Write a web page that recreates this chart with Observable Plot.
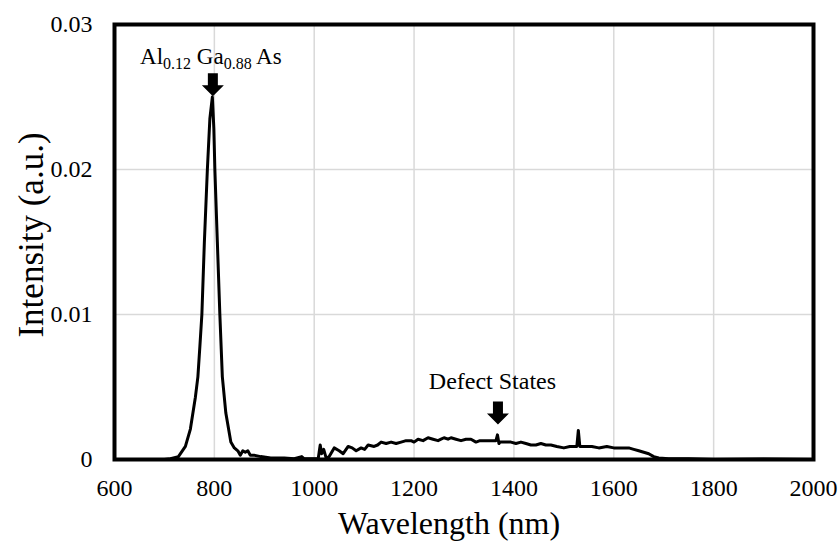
<!DOCTYPE html>
<html>
<head>
<meta charset="utf-8">
<script src="https://cdn.jsdelivr.net/npm/d3@7"></script>
<script src="https://cdn.jsdelivr.net/npm/@observablehq/plot@0.6"></script>
<style>
  html, body { margin: 0; padding: 0; background: #ffffff; }
  #chart svg { display: block; }
  #chart svg text { font-family: 'Liberation Serif', 'Times New Roman', Times, serif !important; fill: #000; }
</style>
</head>
<body>
<div id="chart"></div>
<script>
// Photoluminescence spectrum
const wavelength = [
  700, 712, 728, 742, 752, 762, 767, 771, 775, 780, 786, 791, 796, 799, 801, 806, 811, 816, 823, 833,
  840, 847, 852, 857, 862, 867, 872, 879, 893, 913, 940, 960, 975, 980, 1008, 1012, 1015, 1019, 1024, 1030,
  1040, 1050, 1058, 1068, 1076, 1084, 1094, 1101, 1108, 1120, 1127, 1134, 1144, 1154, 1164, 1174, 1184, 1194, 1200, 1208,
  1218, 1228, 1238, 1248, 1254, 1260, 1268, 1274, 1284, 1294, 1304, 1314, 1324, 1332, 1340, 1350, 1358, 1364, 1367, 1370,
  1372, 1380, 1394, 1404, 1414, 1424, 1434, 1444, 1454, 1464, 1474, 1486, 1500, 1512, 1526, 1529, 1532, 1540, 1556, 1570,
  1586, 1600, 1616, 1630, 1640, 1650, 1660, 1670, 1680, 1690, 1710, 1750, 1800, 1900, 2000
];
const intensity = [
  0, 0.00005, 0.0002, 0.0009, 0.0021, 0.0043, 0.0057, 0.0078, 0.0100, 0.0150, 0.0200, 0.0235, 0.0250, 0.0228, 0.0200, 0.0150, 0.0100, 0.0057, 0.0032, 0.0012,
  0.0008, 0.0006, 0.0003, 0.0006, 0.0005, 0.0006, 0.0003, 0.0003, 0.0002, 0.0001, 0.0001, 0.00005, 0.0002, 0.00005, 0.00005, 0.0010, 0.0004, 0.0007, 0.0001, 0.0002,
  0.0008, 0.0006, 0.0004, 0.0009, 0.0008, 0.0006, 0.0008, 0.0007, 0.0010, 0.0009, 0.0010, 0.0012, 0.0011, 0.0012, 0.0011, 0.0012, 0.0013, 0.0013, 0.0012, 0.0014,
  0.0013, 0.0015, 0.0014, 0.0013, 0.0014, 0.0015, 0.0014, 0.0015, 0.0014, 0.0013, 0.0014, 0.0014, 0.0012, 0.0013, 0.0013, 0.0013, 0.0013, 0.0013, 0.0017, 0.0011,
  0.0012, 0.0012, 0.0012, 0.0011, 0.0012, 0.0011, 0.0010, 0.0010, 0.0011, 0.0010, 0.0010, 0.0009, 0.0008, 0.0009, 0.0009, 0.0020, 0.0009, 0.0009, 0.0009, 0.0008,
  0.0009, 0.0008, 0.0008, 0.0008, 0.0007, 0.0006, 0.0005, 0.0004, 0.0002, 0.0001, 0.00005, 0.00005, 0, 0.00003, 0
];

const xTicks = [600, 800, 1000, 1200, 1400, 1600, 1800, 2000];
const xTickLabels = ["600", "800", "1000", "1200", "1400", "1600", "1800", "2000"];
const yTicks = [0, 0.01, 0.02, 0.03];
const yTickLabels = ["0", "0.01", "0.02", "0.03"];
const xGrid = [800, 1000, 1200, 1400, 1600, 1800];
const yGrid = [0.01, 0.02];

const xLabel = "Wavelength (nm)";
const yLabel = "Intensity (a.u.)";

// Annotations (anchored in data units)
const peakLabelParts = ["Al", "0.12", " Ga", "0.88", " As"];
const peakLabelSub = [false, true, false, true, false];
const peakLabel = peakLabelParts.join("");
const peakLabelX = 793;
const peakLabelY = 0.02776;
const peakArrowX = 797;
const peakArrowY = 0.02585;

const defectLabel = "Defect States";
const defectLabelX = 1357;
const defectLabelY = 0.0054;
const defectArrowX = 1368;
const defectArrowY = 0.0032;

const spectrum = wavelength.map((w, i) => ({w, v: intensity[i]}));

// block arrow symbol (pointing down), centred on its anchor
const blockArrow = {
  draw(ctx) {
    const sw = 10, hw = 22, top = -11.5, mid = 0.5, tip = 11.5;
    ctx.moveTo(-sw / 2, top);
    ctx.lineTo(sw / 2, top);
    ctx.lineTo(sw / 2, mid);
    ctx.lineTo(hw / 2, mid);
    ctx.lineTo(0, tip);
    ctx.lineTo(-hw / 2, mid);
    ctx.lineTo(-sw / 2, mid);
    ctx.closePath();
  }
};

const serif = "Liberation Serif";

const chart = Plot.plot({
  width: 840,
  height: 548,
  marginLeft: 114,
  marginRight: 27,
  marginTop: 24,
  marginBottom: 89,
  style: {fontFamily: serif, fontSize: "24px", color: "black", background: "white"},
  x: {domain: [600, 2000]},
  y: {domain: [0, 0.03]},
  marks: [
    Plot.gridX(xGrid, {stroke: "#d9d9d9", strokeOpacity: 1, strokeWidth: 1.5}),
    Plot.gridY(yGrid, {stroke: "#d9d9d9", strokeOpacity: 1, strokeWidth: 1.5}),
    Plot.line(spectrum, {x: "w", y: "v", stroke: "black", strokeWidth: 3, strokeLinejoin: "round"}),
    Plot.frame({stroke: "black", strokeWidth: 4}),
    Plot.axisX({ticks: xTicks, tickFormat: d => xTickLabels[xTicks.indexOf(d)], tickSize: 0, tickPadding: 19, label: null, fontSize: 24, fontFamily: serif}),
    Plot.axisY({ticks: yTicks, tickFormat: d => yTickLabels[yTicks.indexOf(d)], tickSize: 0, tickPadding: 22, label: null, fontSize: 24, fontFamily: serif}),
    Plot.text([xLabel], {frameAnchor: "bottom", text: d => d, dx: -15, dy: 64, fontSize: 32, fontFamily: serif, textAnchor: "middle", lineAnchor: "middle"}),
    Plot.text([yLabel], {frameAnchor: "left", text: d => d, rotate: -90, dx: -83, dy: -7, fontSize: 35, fontFamily: serif, textAnchor: "middle", lineAnchor: "middle"}),
    Plot.text([peakLabel], {x: () => peakLabelX, y: () => peakLabelY, text: d => d, fontSize: 23, fontFamily: serif, textAnchor: "middle", lineAnchor: "middle"}),
    Plot.text([defectLabel], {x: () => defectLabelX, y: () => defectLabelY, text: d => d, fontSize: 24, fontFamily: serif, textAnchor: "middle", lineAnchor: "middle"}),
    Plot.dot([{x: peakArrowX, y: peakArrowY}, {x: defectArrowX, y: defectArrowY}], {x: "x", y: "y", symbol: blockArrow, fill: "black", stroke: "none", r: 10})
  ]
});

document.getElementById("chart").appendChild(chart);

// turn the composition label into real subscripts
d3.select(chart).selectAll("text").filter(function () { return this.textContent === peakLabel; }).each(function () {
  const t = d3.select(this);
  t.text(null);
  let shifted = false;
  peakLabelParts.forEach((p, i) => {
    const ts = t.append("tspan").text(p);
    if (peakLabelSub[i]) {
      ts.attr("font-size", 16).attr("dy", 5);
      shifted = true;
    } else if (shifted) {
      ts.attr("dy", -5);
      shifted = false;
    }
  });
  t.attr("xml:space", "preserve").style("white-space", "pre");
});
</script>
</body>
</html>
